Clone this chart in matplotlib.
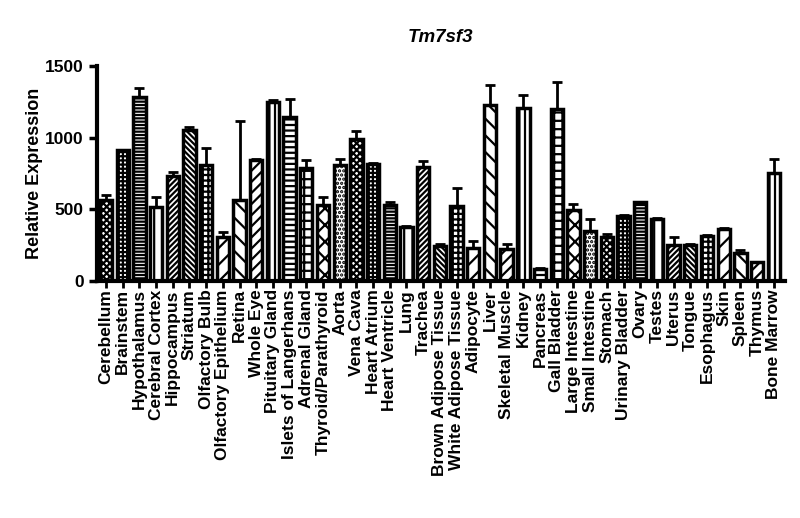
import matplotlib
matplotlib.use("Agg")
import matplotlib.pyplot as plt
import numpy as np

plt.rcParams['font.family'] = ['Liberation Sans', 'DejaVu Sans']
plt.rcParams['font.weight'] = 'bold'
plt.rcParams['hatch.linewidth'] = 1.6

# tissues, mean and upper error (SEM)
tissues = ["Cerebellum", "Brainstem", "Hypothalamus", "Cerebral Cortex", "Hippocampus",
           "Striatum", "Olfactory Bulb", "Olfactory Epithelium", "Retina", "Whole Eye",
           "Pituitary Gland", "Islets of Langerhans", "Adrenal Gland", "Thyroid/Parathyroid",
           "Aorta", "Vena Cava", "Heart Atrium", "Heart Ventricle", "Lung", "Trachea",
           "Brown Adipose Tissue", "White Adipose Tissue", "Adipocyte", "Liver",
           "Skeletal Muscle", "Kidney", "Pancreas", "Gall Bladder", "Large Intestine",
           "Small Intestine", "Stomach", "Urinary Bladder", "Ovary", "Testes", "Uterus",
           "Tongue", "Esophagus", "Skin", "Spleen", "Thymus", "Bone Marrow"]
expression = [565, 910, 1285, 514, 734, 1051, 807, 307, 567, 844,
              1246, 1146, 786, 528, 809, 988, 818, 530, 376, 797,
              244, 521, 230, 1225, 221, 1204, 86, 1200, 493, 349,
              309, 455, 549, 435, 253, 251, 316, 360, 197, 130, 755]
error = [35, 5, 63, 74, 28, 25, 123, 35, 547, 7,
         18, 125, 60, 56, 44, 60, 6, 18, 4, 42,
         14, 130, 51, 144, 39, 93, 4, 190, 42, 86,
         17, 7, 4, 4, 56, 4, 4, 12, 19, 4, 94]

# GraphPad-like fill pattern cycle
patterns = ['xxxxx', '++++', '-----', '||', '//////', '\\\\\\\\\\\\',
            '+++', '//', '\\\\', '///', '|||', '---', '++', 'xx', '....']

x = np.arange(len(tissues))
fig = plt.figure(figsize=(8, 5.18), dpi=100)
ax = fig.add_axes([0.121, 0.4575, 0.86, 0.4155])

for i in range(len(tissues)):
    ax.bar(x[i], expression[i], width=0.74, color='white', edgecolor='black',
           linewidth=2.5, hatch=patterns[i % len(patterns)], zorder=2)
ax.errorbar(x, expression, yerr=[np.zeros(len(error)), error], fmt='none',
            ecolor='black', elinewidth=2, capsize=3.5, capthick=2, zorder=1)

ax.set_xlim(-0.55, 40.66)
ax.set_ylim(0, 1500)
ax.set_yticks([0, 500, 1000, 1500])
ax.set_xticks(x)
ax.set_xticklabels(tissues, rotation=90, fontsize=12.5, fontweight='bold')
ax.tick_params(axis='y', labelsize=12.5, width=2.5, length=6)
ax.tick_params(axis='x', width=2, length=5, pad=1)
for lab in ax.get_yticklabels():
    lab.set_fontweight('bold')
ax.spines['top'].set_visible(False)
ax.spines['right'].set_visible(False)
ax.spines['left'].set_linewidth(3)
ax.spines['bottom'].set_linewidth(3)
ax.set_ylabel("Relative Expression", fontsize=13, fontweight='bold', labelpad=1)
ax.set_title("Tm7sf3", fontsize=13.5, fontweight='bold', style='italic', pad=17)

plt.savefig("out.png", dpi=100)
